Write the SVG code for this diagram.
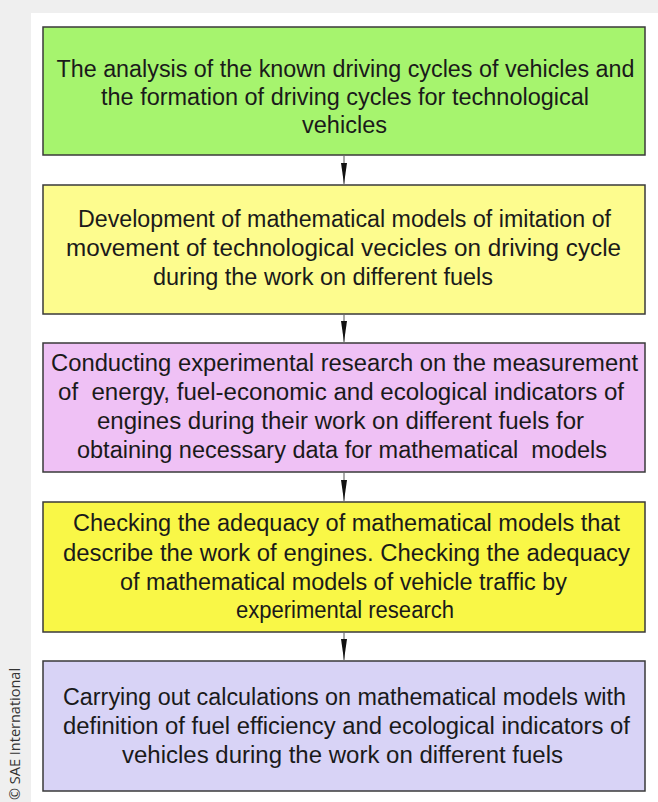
<svg xmlns="http://www.w3.org/2000/svg" width="658" height="802" viewBox="0 0 658 802">
  <style>
    .box { stroke: #3a3a3a; stroke-width: 1.5; }
    .label { font-family: "Liberation Sans", Arial, sans-serif; font-size: 23px; fill: #1a1a1a; text-anchor: middle; white-space: pre; }
    .link { stroke: #555; stroke-width: 1; fill: none; }
    .credit { font-family: "Open Sans", "Noto Sans", sans-serif; font-size: 14.5px; fill: #333; }
  </style>
  <defs>
    <marker id="head" markerUnits="userSpaceOnUse" markerWidth="22" markerHeight="8" refX="21" refY="3.5" orient="auto">
      <path d="M0,0.5 L21,3.5 L0,6.5 z" fill="#111"/>
    </marker>
  </defs>

  <!-- page background and white panel -->
  <rect x="0" y="0" width="658" height="802" fill="#efefef"/>
  <rect x="31" y="13" width="627" height="789" fill="#ffffff"/>

  <!-- copyright line -->
  <text class="credit" transform="translate(20,800) rotate(-90)">© SAE International</text>

  <!-- connectors -->
  <g id="connectors">
    <line class="link" x1="344" y1="156" x2="344" y2="184" marker-end="url(#head)"/>
    <line class="link" x1="344" y1="315" x2="344" y2="342" marker-end="url(#head)"/>
    <line class="link" x1="344" y1="473" x2="344" y2="501" marker-end="url(#head)"/>
    <line class="link" x1="344" y1="633" x2="344" y2="660" marker-end="url(#head)"/>
  </g>

  <g id="step1">
    <rect class="box" x="43" y="27" width="602" height="128" fill="#a6f46e"/>
    <text class="label" x="345.5" y="77" textLength="578" lengthAdjust="spacingAndGlyphs">The analysis of the known driving cycles of vehicles and</text>
    <text class="label" x="345" y="105" textLength="488" lengthAdjust="spacingAndGlyphs">the formation of driving cycles for technological</text>
    <text class="label" x="344.5" y="133" textLength="85" lengthAdjust="spacingAndGlyphs">vehicles</text>
  </g>

  <g id="step2">
    <rect class="box" x="43" y="185" width="602" height="129" fill="#fdfc8e"/>
    <text class="label" x="344.5" y="227" textLength="533" lengthAdjust="spacingAndGlyphs">Development of mathematical models of imitation of</text>
    <text class="label" x="343.5" y="256" textLength="555" lengthAdjust="spacingAndGlyphs">movement of technological vecicles on driving cycle</text>
    <text class="label" x="323" y="285" textLength="340" lengthAdjust="spacingAndGlyphs">during the work on different fuels</text>
  </g>

  <g id="step3">
    <rect class="box" x="43" y="343" width="602" height="129" fill="#efc1f5"/>
    <text class="label" x="344.5" y="371" textLength="587" lengthAdjust="spacingAndGlyphs">Conducting experimental research on the measurement</text>
    <text class="label" x="341" y="400" textLength="566" lengthAdjust="spacingAndGlyphs">of  energy, fuel-economic and ecological indicators of</text>
    <text class="label" x="340.5" y="429" textLength="487" lengthAdjust="spacingAndGlyphs">engines during their work on different fuels for</text>
    <text class="label" x="342" y="458" textLength="530" lengthAdjust="spacingAndGlyphs">obtaining necessary data for mathematical  models</text>
  </g>

  <g id="step4">
    <rect class="box" x="43" y="502" width="602" height="130" fill="#f9f747"/>
    <text class="label" x="346.5" y="531" textLength="547" lengthAdjust="spacingAndGlyphs">Checking the adequacy of mathematical models that</text>
    <text class="label" x="346.5" y="561" textLength="567" lengthAdjust="spacingAndGlyphs">describe the work of engines. Checking the adequacy</text>
    <text class="label" x="343.5" y="590" textLength="447" lengthAdjust="spacingAndGlyphs">of mathematical models of vehicle traffic by</text>
    <text class="label" x="345" y="618" textLength="218" lengthAdjust="spacingAndGlyphs">experimental research</text>
  </g>

  <g id="step5">
    <rect class="box" x="43" y="661" width="602" height="130" fill="#d8d3f6"/>
    <text class="label" x="344.5" y="705" textLength="563" lengthAdjust="spacingAndGlyphs">Carrying out calculations on mathematical models with</text>
    <text class="label" x="346.5" y="734" textLength="567" lengthAdjust="spacingAndGlyphs">definition of fuel efficiency and ecological indicators of</text>
    <text class="label" x="342.5" y="763" textLength="441" lengthAdjust="spacingAndGlyphs">vehicles during the work on different fuels</text>
  </g>
</svg>
